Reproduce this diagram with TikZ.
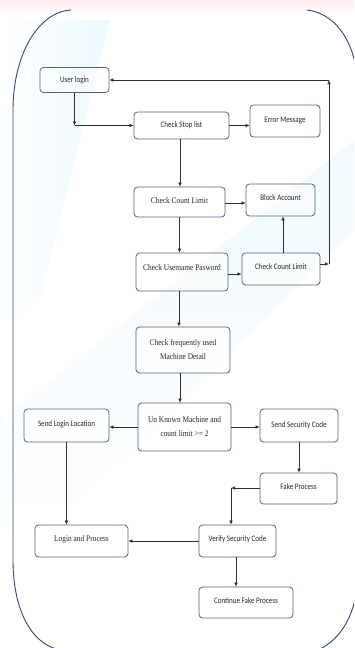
\documentclass[tikz,border=0pt]{standalone}
\usepackage{fontspec}
\setmainfont{Liberation Serif}
\newfontfamily\narrowsans[FakeStretch=0.84]{Carlito}
\newfontfamily\narrowserif[FakeStretch=0.86]{Liberation Serif}
\usetikzlibrary{arrows.meta,fadings}
\definecolor{boxline}{HTML}{4F6383}
\definecolor{frameline}{HTML}{34466E}
\definecolor{arrowline}{HTML}{2E2E2E}
\tikzset{
  box/.style={draw=boxline, line width=0.8pt, rounded corners=3.5pt, fill=white, fill opacity=0.55, text opacity=1, inner sep=1pt, align=center, text=black!85},
  sansbox/.style={box, font=\narrowsans\fontsize{8.4}{10}\selectfont},
  serifbox/.style={box, font=\narrowserif\fontsize{8.6}{14}\selectfont},
  arr/.style={draw=arrowline, line width=0.6pt, -{Latex[length=4pt,width=3.6pt]}},
}
\begin{document}
\begin{tikzpicture}[x=1pt,y=-1pt]
\useasboundingbox (0,0) rectangle (354,648);
\begin{scope}
\clip (0,0) rectangle (354,648);
% faint background washes
\shade[top color=pink!35, bottom color=white] (0,0) rectangle (354,14);
\fill[cyan!7, path fading=west] (0,20) -- (110,20) -- (40,300) -- (0,330) -- cycle;
\fill[cyan!6, path fading=south] (354,140) -- (354,230) -- (60,520) -- (0,540) -- (0,420) -- cycle;
% frame
\draw[frameline, line width=0.9pt]
  (71,10) .. controls (38,12) and (13,55) .. (13,110)
  -- (13,560) .. controls (13,615) and (35,647) .. (62,650)
  -- (318,650) .. controls (340,640) and (358,615) .. (358,570)
  -- (358,90) .. controls (358,50) and (340,14) .. (307,10);
\end{scope}

% nodes
\node[sansbox, minimum width=69pt, minimum height=25pt] (login) at (74.5,80) {User login};
\node[sansbox, minimum width=95pt, minimum height=27pt] (stop) at (181.5,125.5) {\raisebox{1.5pt}{Check Stop list}};
\node[sansbox, minimum width=70pt, minimum height=32pt] (err) at (285,121) {\raisebox{3pt}{Error Message}};
\node[serifbox, minimum width=91pt, minimum height=30pt] (ccl) at (179.5,202) {\raisebox{3pt}{Check Count Limit}};
\node[sansbox, minimum width=69pt, minimum height=32pt] (block) at (280.5,200) {\raisebox{4pt}{Block Account}};
\node[serifbox, minimum width=92pt, minimum height=38pt] (usr) at (182,272) {\raisebox{8pt}{Check Usemame Pasword}};
\node[sansbox, minimum width=78pt, minimum height=32pt] (ccr) at (281,269) {\raisebox{4pt}{Check Count Limit}};
\node[serifbox, minimum width=94pt, minimum height=46pt] (freq) at (183,350) {Check frequently used\\Machine Detail};
\node[serifbox, minimum width=93pt, minimum height=48pt] (unk) at (184.5,427) {Un Known Machine and\\count limit >= 2};
\node[sansbox, minimum width=85pt, minimum height=33pt] (sll) at (66.5,425.5) {\raisebox{3pt}{Send Login Location}};
\node[sansbox, minimum width=78pt, minimum height=33pt] (ssc) at (299,425.5) {\raisebox{2pt}{Send Security Code}};
\node[sansbox, minimum width=77pt, minimum height=31pt] (fake) at (298.5,488.5) {\raisebox{3pt}{Fake Process}};
\node[serifbox, minimum width=93pt, minimum height=32pt] (lap) at (81.5,541) {\raisebox{4pt}{Login and Process}};
\node[sansbox, minimum width=77pt, minimum height=32pt] (vsc) at (237.5,541) {\raisebox{4pt}{Verify Security Code}};
\node[sansbox, minimum width=94pt, minimum height=31pt] (cfp) at (246,602.5) {\raisebox{4pt}{Continue Fake Process}};

% corner coordinates
\coordinate (c1) at (login.south |- stop.west);
\coordinate (c2) at (329,264);
\coordinate (c3) at (c2 |- login.east);
\coordinate (c4) at (231,488);

% connectors
\draw[arr] (login.south) -- (c1);
\draw[arr] (c1) -- (stop.west);
\draw[arr] (stop.east) -- (stop.east -| err.west);
\draw[arr] ([xshift=-1.5pt]stop.south) -- ([xshift=-1.5pt]stop.south |- ccl.north);
\draw[arr] ([yshift=-1pt]ccl.east) -- ([yshift=-1pt]ccl.east -| block.west);
\draw[arr] (ccl.south) -- (ccl.south |- usr.north);
\draw[arr] ([yshift=-2pt]usr.east) -- ([yshift=-2pt]usr.east -| ccr.west);
\draw[arr] ([xshift=2pt]ccr.north) -- ([xshift=2pt]ccr.north |- block.south);
\draw[arr] (ccr.east |- c2) -- (c2);
\draw[arr] (c2) -- (c3);
\draw[arr] (c3) -- (login.east);
\draw[arr] ([xshift=-3pt]usr.south) -- ([xshift=-3pt]usr.south |- freq.north);
\draw[arr] ([xshift=-3pt]freq.south) -- ([xshift=-3pt]freq.south |- unk.north);
\draw[arr] (unk.west) -- (unk.west -| sll.east);
\draw[arr] (unk.east) -- (unk.east -| ssc.west);
\draw[arr] (ssc.south) -- (ssc.south |- fake.north);
\draw[arr] (fake.west |- c4) -- (c4);
\draw[arr] (c4) -- (c4 |- vsc.north);
\draw[arr] (sll.south) -- (sll.south |- lap.north);
\draw[arr] (vsc.west) -- (vsc.west -| lap.east);
\draw[arr] ([xshift=-1.5pt]vsc.south) -- ([xshift=-1.5pt]vsc.south |- cfp.north);
\end{tikzpicture}
\end{document}
